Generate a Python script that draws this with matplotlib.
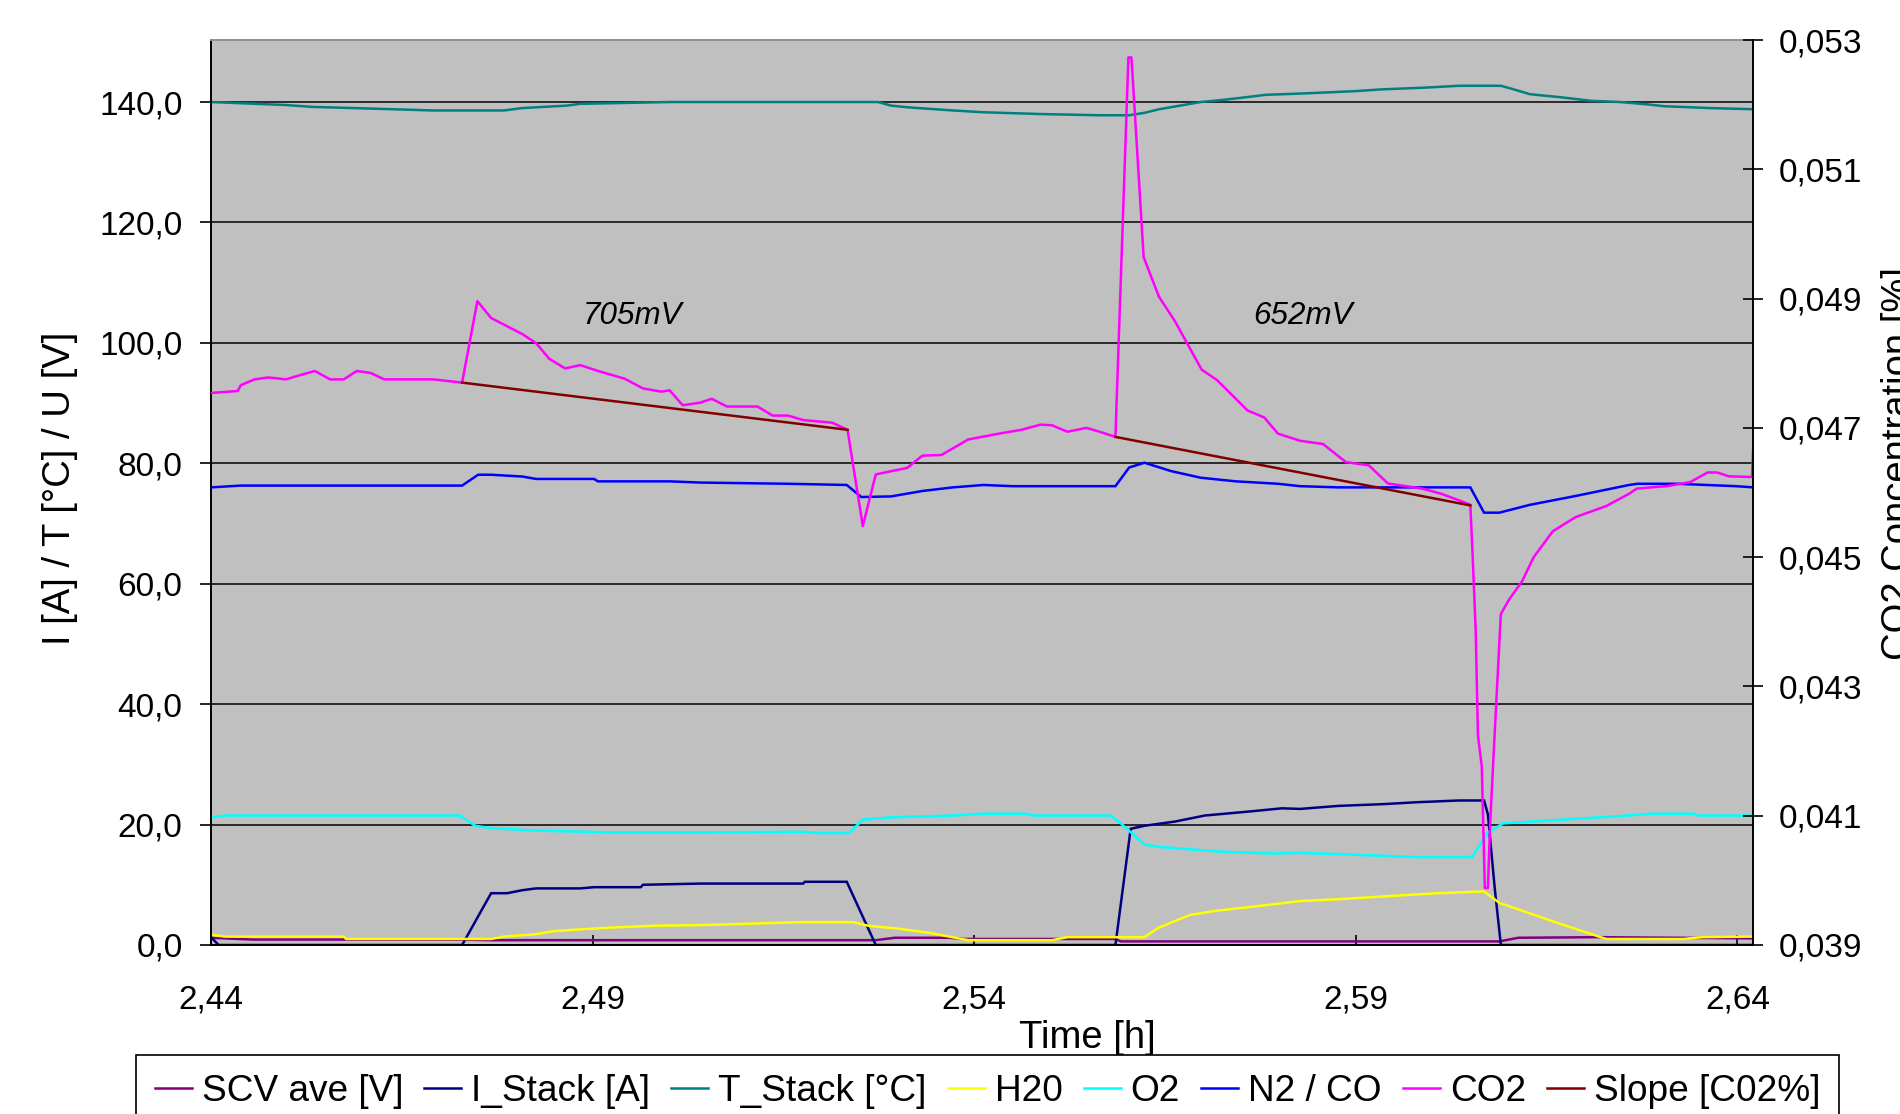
import matplotlib
matplotlib.use("Agg")
import matplotlib.pyplot as plt
from matplotlib.ticker import FuncFormatter, FixedLocator
import numpy as np

plt.rcParams['font.family'] = ['Liberation Sans', 'DejaVu Sans']

# ---- measured series (time in hours) ----
t_scv = [2.4400, 2.4455, 2.4729, 2.4767, 2.5271, 2.5296, 2.5367, 2.5387, 2.5585,
         2.5592, 2.6088, 2.6113, 2.6218, 2.6421]
scv_ave = [1.2, 0.9, 0.9, 0.8, 0.8, 1.2, 1.2, 1.0, 1.0, 0.6, 0.6, 1.2, 1.3, 1.1]

t_istack = [2.4400, 2.4410, 2.4729, 2.4767, 2.4788, 2.4808, 2.4826, 2.4884, 2.4902,
            2.4963, 2.4966, 2.5041, 2.5176, 2.5178, 2.5233, 2.5271, 2.5585, 2.5605,
            2.5623, 2.5663, 2.5702, 2.5763, 2.5803, 2.5827, 2.5877, 2.5937, 2.5978,
            2.6035, 2.6068, 2.6073, 2.6082, 2.6090, 2.6421]
i_stack = [1.3, 0.0, 0.0, 8.6, 8.6, 9.1, 9.4, 9.4, 9.6, 9.6, 10.0, 10.2, 10.2, 10.5,
           10.5, 0.0, 0.0, 19.3, 19.8, 20.5, 21.5, 22.2, 22.7, 22.6, 23.1, 23.4, 23.7,
           24.0, 24.0, 21.7, 9.4, 0.0, 0.0]

t_tstack = [2.4400, 2.4439, 2.4498, 2.4532, 2.4612, 2.4691, 2.4784, 2.4808, 2.4866,
            2.4884, 2.5001, 2.5274, 2.5291, 2.5315, 2.5372, 2.5412, 2.5488, 2.5565,
            2.5603, 2.5623, 2.5642, 2.5697, 2.5722, 2.5743, 2.5763, 2.5782, 2.5827,
            2.5898, 2.5934, 2.5992, 2.6035, 2.6090, 2.6107, 2.6128, 2.6168, 2.6208,
            2.6246, 2.6283, 2.6304, 2.6363, 2.6421]
t_stack = [140.0, 139.8, 139.5, 139.2, 138.9, 138.6, 138.6, 139.0, 139.4, 139.7,
           140.0, 140.0, 139.4, 139.1, 138.6, 138.3, 138.0, 137.8, 137.8, 138.2,
           138.8, 140.0, 140.3, 140.6, 140.9, 141.2, 141.4, 141.8, 142.1, 142.4,
           142.7, 142.7, 142.1, 141.3, 140.8, 140.2, 140.0, 139.6, 139.3, 139.0, 138.8]

t_h2o = [2.4400, 2.4418, 2.4574, 2.4577, 2.4767, 2.4784, 2.4826, 2.4849, 2.4884,
         2.4925, 2.4983, 2.5041, 2.5176, 2.5241, 2.5261, 2.5302, 2.5342, 2.5392,
         2.5502, 2.5522, 2.5623, 2.5642, 2.5683, 2.5718, 2.5768, 2.5827, 2.5877,
         2.5953, 2.6008, 2.6068, 2.6088, 2.6168, 2.6228, 2.6329, 2.6354, 2.6421]
h2o = [1.7, 1.4, 1.4, 1.0, 1.0, 1.4, 1.8, 2.3, 2.6, 2.9, 3.2, 3.3, 3.8, 3.8, 3.2,
       2.7, 2.0, 0.8, 0.8, 1.3, 1.3, 2.9, 5.0, 5.7, 6.4, 7.3, 7.6, 8.2, 8.6, 8.9,
       7.0, 3.5, 1.0, 1.0, 1.3, 1.4]

t_o2 = [2.4400, 2.4418, 2.4726, 2.4746, 2.4767, 2.4826, 2.4925, 2.5041, 2.5176,
        2.5191, 2.5236, 2.5254, 2.5291, 2.5372, 2.5412, 2.5467, 2.5477, 2.5579,
        2.5592, 2.5623, 2.5642, 2.5722, 2.5793, 2.5827, 2.5877, 2.5978, 2.6052,
        2.6073, 2.6093, 2.6244, 2.6288, 2.6343, 2.6348, 2.6421]
o2 = [21.2, 21.5, 21.5, 19.8, 19.4, 19.0, 18.7, 18.7, 18.8, 18.6, 18.6, 20.8, 21.2,
      21.5, 21.8, 21.8, 21.5, 21.5, 20.2, 16.7, 16.3, 15.5, 15.2, 15.3, 15.1, 14.6,
      14.6, 18.7, 20.2, 21.4, 21.8, 21.8, 21.5, 21.5]

t_n2 = [2.4400, 2.4439, 2.4729, 2.4750, 2.4767, 2.4808, 2.4826, 2.4902, 2.4907,
        2.5001, 2.5041, 2.5156, 2.5233, 2.5252, 2.5291, 2.5332, 2.5372, 2.5412,
        2.5450, 2.5585, 2.5603, 2.5623, 2.5658, 2.5697, 2.5743, 2.5798, 2.5827,
        2.5877, 2.6050, 2.6068, 2.6088, 2.6128, 2.6189, 2.6258, 2.6269, 2.6321,
        2.6398, 2.6421]
n2_co = [76.0, 76.3, 76.3, 78.1, 78.1, 77.8, 77.4, 77.4, 77.0, 77.0, 76.8, 76.6,
         76.4, 74.4, 74.5, 75.4, 76.0, 76.4, 76.2, 76.2, 79.3, 80.1, 78.7, 77.6,
         77.0, 76.6, 76.2, 76.0, 76.0, 71.8, 71.8, 73.1, 74.6, 76.4, 76.6, 76.6,
         76.2, 76.0]

t_co2 = [2.4400, 2.4435, 2.4439, 2.4457, 2.4475, 2.4498, 2.4521, 2.4536, 2.4556,
         2.4574, 2.4591, 2.4609, 2.4627, 2.4691, 2.4729, 2.4749, 2.4767, 2.4785,
         2.4808, 2.4826, 2.4843, 2.4864, 2.4884, 2.4907, 2.4942, 2.4966, 2.4990,
         2.5001, 2.5018, 2.5041, 2.5056, 2.5076, 2.5116, 2.5136, 2.5156, 2.5176,
         2.5214, 2.5234, 2.5254, 2.5271, 2.5312, 2.5332, 2.5357, 2.5392, 2.5432,
         2.5462, 2.5487, 2.5502, 2.5522, 2.5547, 2.5567, 2.5585, 2.5602, 2.5606,
         2.5622, 2.5642, 2.5663, 2.5698, 2.5718, 2.5758, 2.5780, 2.5798, 2.5827,
         2.5857, 2.5887, 2.5917, 2.5942, 2.5987, 2.6012, 2.6037, 2.6050, 2.6053,
         2.6057, 2.6060, 2.6065, 2.6069, 2.6073, 2.6076, 2.6083, 2.6090, 2.6100,
         2.6118, 2.6133, 2.6158, 2.6188, 2.6228, 2.6258, 2.6268, 2.6308, 2.6338,
         2.6361, 2.6373, 2.6389, 2.6419, 2.6421]
co2 = [0.04754, 0.04757, 0.04766, 0.04775, 0.04778, 0.04775, 0.04783, 0.04788,
       0.04775, 0.04775, 0.04788, 0.04785, 0.04775, 0.04775, 0.04770, 0.04896,
       0.04870, 0.04859, 0.04845, 0.04831, 0.04807, 0.04792, 0.04797, 0.04788,
       0.04776, 0.04761, 0.04756, 0.04758, 0.04735, 0.04739, 0.04745, 0.04733,
       0.04733, 0.04719, 0.04719, 0.04712, 0.04708, 0.04697, 0.04548, 0.04628,
       0.04638, 0.04657, 0.04658, 0.04682, 0.04691, 0.04697, 0.04705, 0.04704,
       0.04694, 0.04700, 0.04693, 0.04686, 0.05273, 0.05273, 0.04964, 0.04903,
       0.04865, 0.04790, 0.04774, 0.04727, 0.04716, 0.04691, 0.04680, 0.04675,
       0.04647, 0.04642, 0.04614, 0.04606, 0.04598, 0.04587, 0.04581, 0.04503,
       0.04387, 0.04224, 0.04176, 0.03988, 0.03988, 0.04089, 0.04253, 0.04412,
       0.04433, 0.04463, 0.04500, 0.04540, 0.04562, 0.04579, 0.04598, 0.04606,
       0.04610, 0.04616, 0.04631, 0.04631, 0.04625, 0.04624, 0.04680]

# linear CO2 trend over the two load steps (gap between them)
t_slope = [2.4729, 2.5234, np.nan, 2.5585, 2.6050]
slope = [0.04770, 0.04697, np.nan, 0.04686, 0.04580]

labels = ["SCV ave [V]", "I_Stack [A]", "T_Stack [°C]", "H20", "O2", "N2 / CO",
          "CO2", "Slope [C02%]"]
colors = ["#800080", "#000080", "#008080", "#FFFF00", "#00FFFF", "#0000FF",
          "#FF00FF", "#800000"]

x_ticks = [2.44, 2.49, 2.54, 2.59, 2.64]
left_ticks = [0, 20, 40, 60, 80, 100, 120, 140]
right_ticks = [0.039, 0.041, 0.043, 0.045, 0.047, 0.049, 0.051, 0.053]

fig = plt.figure(figsize=(19, 11.14), dpi=100)
ax = fig.add_axes([0.11105, 0.15171, 0.81184, 0.81238])
ax.set_facecolor("#C0C0C0")
ax2 = ax.twinx()

lw = 1.8
left_series = [(t_scv, scv_ave), (t_istack, i_stack), (t_tstack, t_stack),
               (t_h2o, h2o), (t_o2, o2), (t_n2, n2_co)]
handles = []
for (tx, vy), lab, col in zip(left_series, labels[:6], colors[:6]):
    h, = ax.plot(tx, vy, color=col, lw=lw, label=lab, solid_joinstyle="miter")
    handles.append(h)
h, = ax2.plot(t_co2, co2, color=colors[6], lw=lw, label=labels[6])
handles.append(h)
h, = ax2.plot(t_slope, slope, color=colors[7], lw=lw, label=labels[7])
handles.append(h)

ax.set_xlim(2.44, 2.6421)
ax.set_ylim(0, 150.3)
ax2.set_ylim(0.039, 0.053)

ax.xaxis.set_major_locator(FixedLocator(x_ticks))
ax.yaxis.set_major_locator(FixedLocator(left_ticks))
ax2.yaxis.set_major_locator(FixedLocator(right_ticks))
ax.xaxis.set_major_formatter(FuncFormatter(lambda v, p: f"{v:.2f}".replace(".", ",")))
ax.yaxis.set_major_formatter(FuncFormatter(lambda v, p: f"{v:.1f}".replace(".", ",")))
ax2.yaxis.set_major_formatter(FuncFormatter(lambda v, p: f"{v:.3f}".replace(".", ",")))

ax.set_axisbelow(True)
ax.grid(axis="y", color="#2a2a2a", lw=1.4)
ax.grid(axis="x", visible=False)

ax.tick_params(axis="y", direction="out", length=8, width=1.2, pad=12.5, labelsize=24)
ax.tick_params(axis="x", direction="in", length=7, width=1.2, pad=28.5, labelsize=24)
ax2.tick_params(axis="y", direction="inout", length=15, width=1.2, pad=10.5, labelsize=24)

for s in ["left", "bottom"]:
    ax.spines[s].set_color("black")
    ax.spines[s].set_linewidth(1.4)
ax.spines["top"].set_color("#909090")
ax.spines["top"].set_linewidth(1.4)
ax.spines["right"].set_visible(False)
for s in ["left", "bottom", "top"]:
    ax2.spines[s].set_visible(False)
ax2.spines["right"].set_color("black")
ax2.spines["right"].set_linewidth(1.4)

ax.text(2.4952, 104.5, "705mV", style="italic", fontsize=22.6, ha="center", va="center")
ax.text(2.5831, 104.5, "652mV", style="italic", fontsize=22.6, ha="center", va="center")

fig.text(0.0318, 0.5619, "I [A] / T [°C] / U [V]", rotation=90, fontsize=27.5,
         ha="center", va="center")
fig.text(0.9900, 0.5839, "CO2 Concentration [%]", rotation=90, fontsize=27.5,
         ha="left", va="center")
fig.text(0.5721, 0.0684, "Time [h]", fontsize=27.5, ha="center", va="center")

leg = fig.legend(handles, labels, ncol=8, loc="upper left",
                 bbox_to_anchor=(136 / 1900, 1 - 1055 / 1114),
                 bbox_transform=fig.transFigure, fontsize=26.65, handlelength=1.0,
                 handletextpad=0.27, columnspacing=0.57, borderpad=0.5,
                 borderaxespad=0, frameon=True, fancybox=False, framealpha=1)
leg.get_frame().set_edgecolor("black")
leg.get_frame().set_linewidth(1.2)

fig.savefig("out.png", dpi=100)
